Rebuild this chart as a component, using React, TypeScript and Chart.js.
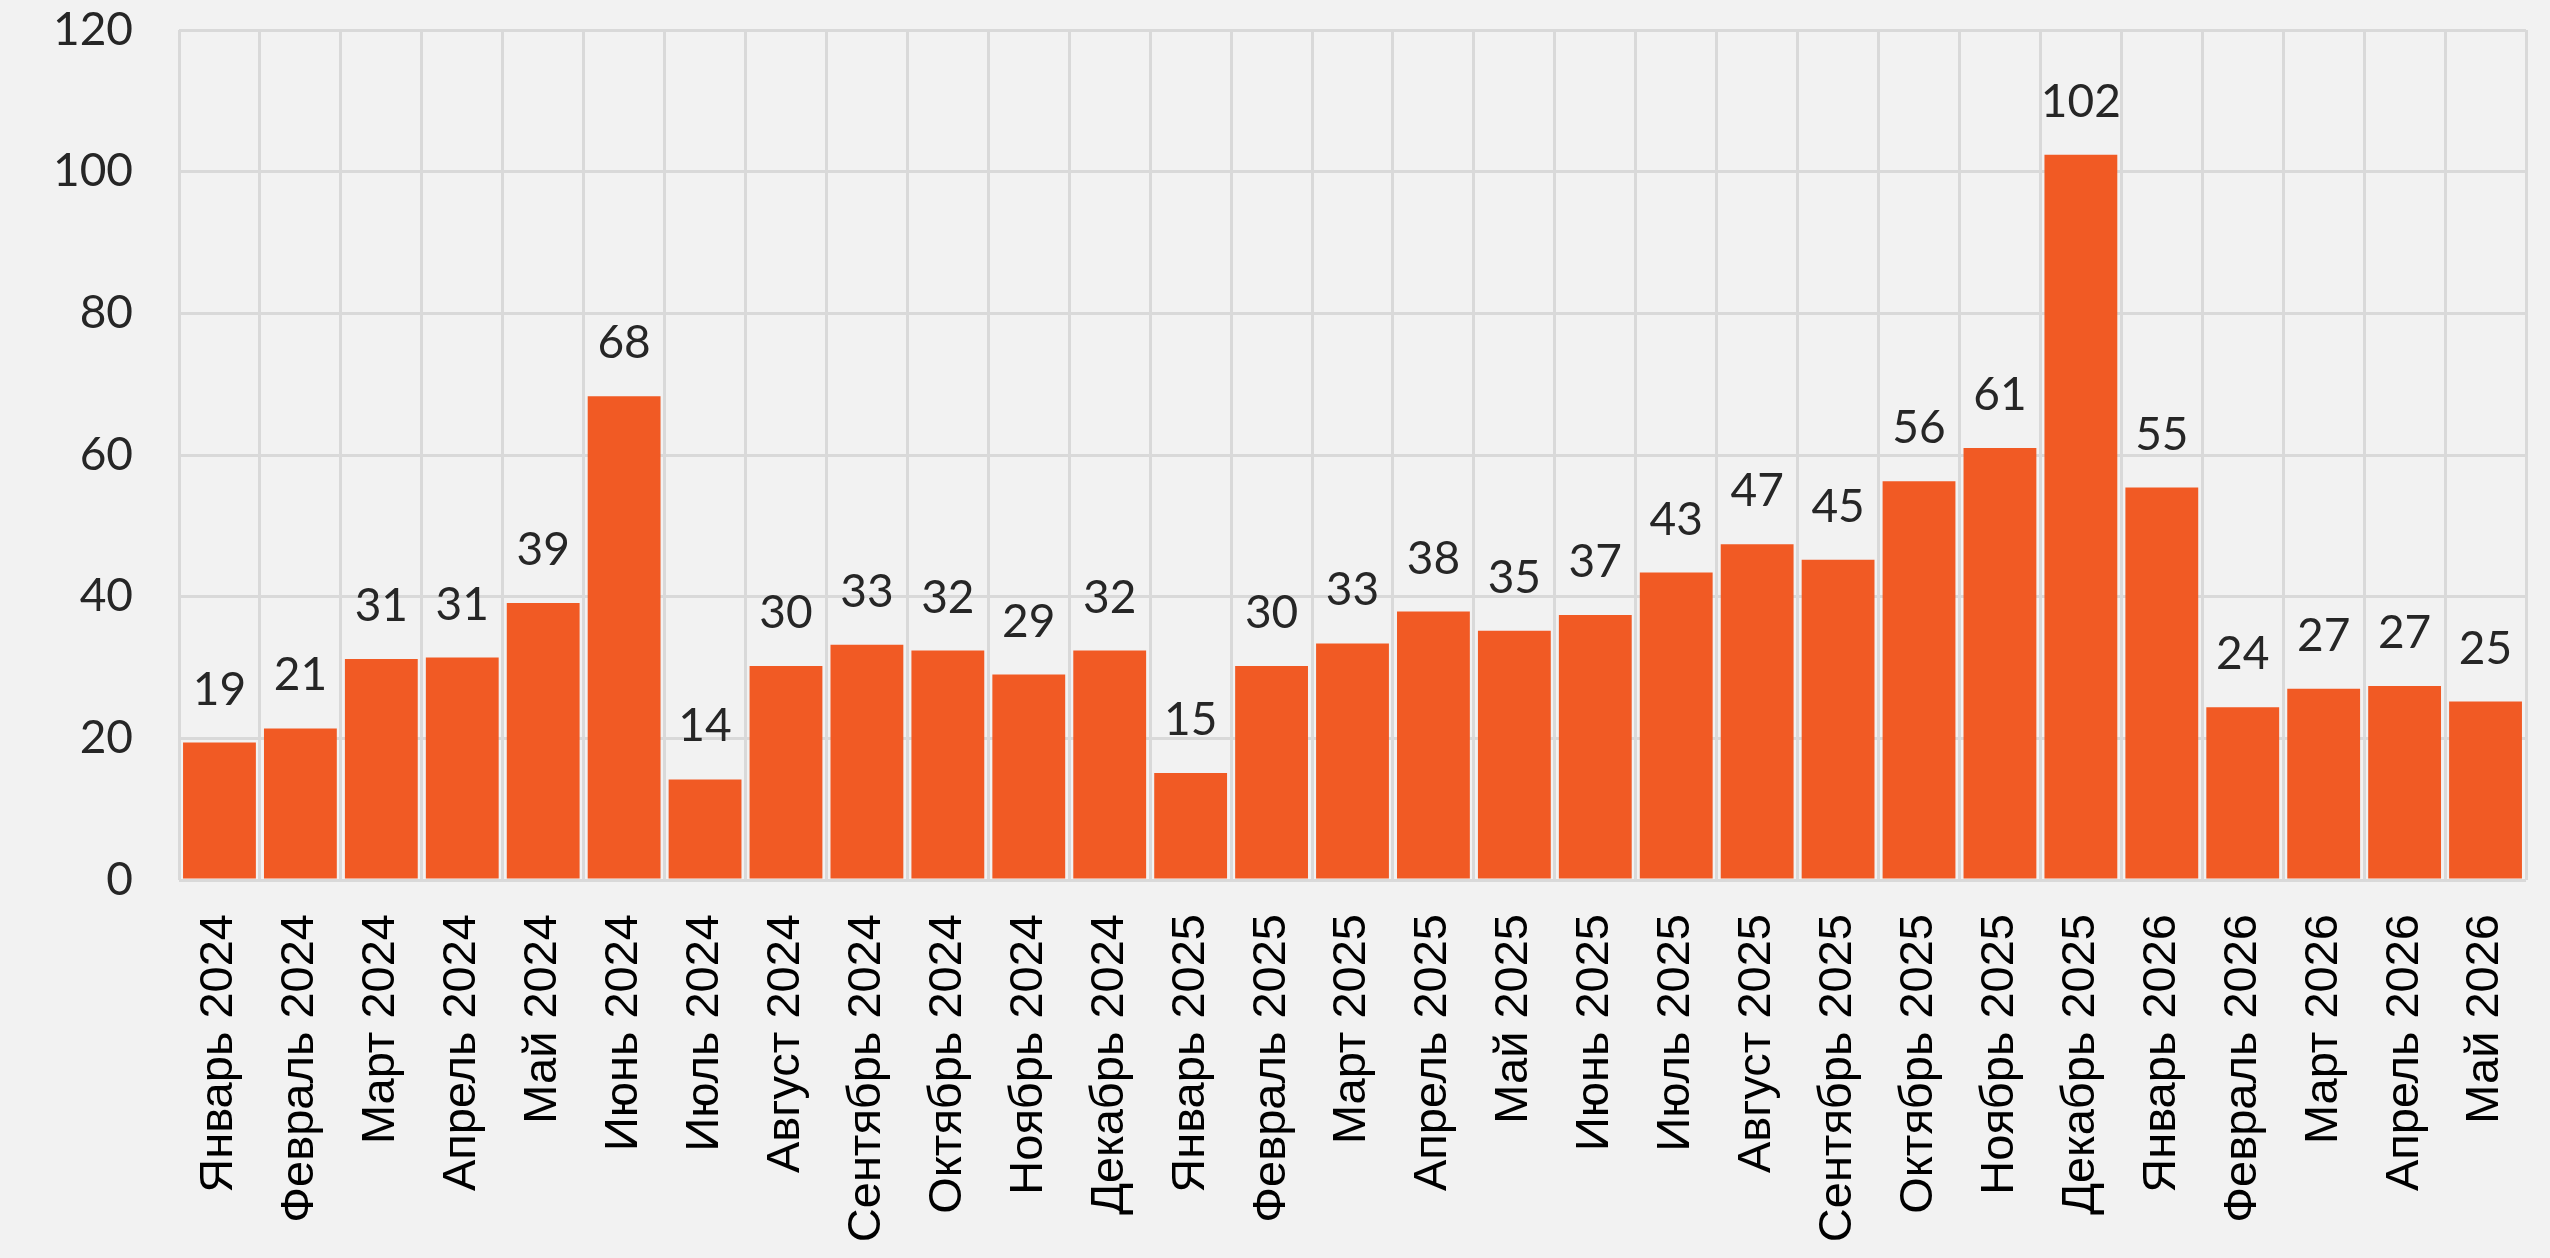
import React, { useEffect, useRef } from "react";
import { Chart, registerables } from "chart.js";

Chart.register(...registerables);

const categories: string[] = [
  "Январь 2024", "Февраль 2024", "Март 2024", "Апрель 2024", "Май 2024", "Июнь 2024",
  "Июль 2024", "Август 2024", "Сентябрь 2024", "Октябрь 2024", "Ноябрь 2024", "Декабрь 2024",
  "Январь 2025", "Февраль 2025", "Март 2025", "Апрель 2025", "Май 2025", "Июнь 2025",
  "Июль 2025", "Август 2025", "Сентябрь 2025", "Октябрь 2025", "Ноябрь 2025", "Декабрь 2025",
  "Январь 2026", "Февраль 2026", "Март 2026", "Апрель 2026", "Май 2026",
];

const values: number[] = [
  19.4, 21.4, 31.2, 31.4, 39.1, 68.3,
  14.2, 30.2, 33.2, 32.4, 29.0, 32.4,
  15.1, 30.2, 33.4, 37.9, 35.2, 37.4,
  43.4, 47.4, 45.2, 56.3, 61.0, 102.4,
  55.4, 24.4, 27.0, 27.4, 25.2,
];

const yTicks: number[] = [0, 20, 40, 60, 80, 100, 120];

const BAR_COLOR = "#F15A24";
const GRID_COLOR = "#D9D9D9";
const TEXT_COLOR = "#262626";
const NUM_FONT = "Lato";
const CAT_FONT = "'Liberation Sans', Arial, sans-serif";

const dataLabelPlugin = {
  id: "dataLabels",
  afterDatasetsDraw(chart: any) {
    const ctx = chart.ctx;
    const meta = chart.getDatasetMeta(0);
    const data = chart.data.datasets[0].data as number[];
    ctx.save();
    ctx.font = `46px ${NUM_FONT}`;
    ctx.fillStyle = TEXT_COLOR;
    ctx.textAlign = "center";
    ctx.textBaseline = "alphabetic";
    meta.data.forEach((bar: any, i: number) => {
      ctx.fillText(String(Math.round(data[i])), bar.x, bar.y - 38);
    });
    ctx.restore();
  },
};

export default function App() {
  const canvasRef = useRef<HTMLCanvasElement | null>(null);

  useEffect(() => {
    document.body.style.margin = "0";
    document.body.style.background = "#F2F2F2";
    const canvas = canvasRef.current;
    if (!canvas) return;
    const chart = new Chart(canvas, {
      type: "bar",
      data: {
        labels: categories,
        datasets: [
          {
            data: values,
            backgroundColor: BAR_COLOR,
            borderWidth: 0,
            barPercentage: 0.9,
            categoryPercentage: 1.0,
          },
        ],
      },
      options: {
        responsive: false,
        animation: false,
        devicePixelRatio: 1,
        layout: { padding: { left: 0, top: 30, right: 24, bottom: 0 } },
        plugins: {
          legend: { display: false },
          tooltip: { enabled: false },
          title: { display: false },
        },
        scales: {
          x: {
            offset: true,
            grid: {
              offset: true,
              color: GRID_COLOR,
              lineWidth: 3,
              drawTicks: false,
            },
            border: { display: false },
            ticks: {
              autoSkip: false,
              minRotation: 90,
              maxRotation: 90,
              padding: 34,
              color: "#000000",
              font: { family: CAT_FONT, size: 47 },
            },
            afterFit(scale: any) {
              scale.height = 378;
              scale.paddingLeft = 0;
              scale.paddingRight = 0;
            },
          },
          y: {
            min: 0,
            max: 120,
            afterBuildTicks(scale: any) {
              scale.ticks = yTicks.map((v) => ({ value: v }));
            },
            grid: {
              color: GRID_COLOR,
              lineWidth: 3,
              drawTicks: false,
            },
            border: { display: false },
            ticks: {
              padding: 46,
              color: TEXT_COLOR,
              font: { family: NUM_FONT, size: 46 },
            },
            afterFit(scale: any) {
              scale.width = 179;
              scale.paddingTop = 0;
              scale.paddingBottom = 0;
            },
          },
        },
      },
      plugins: [dataLabelPlugin],
    });
    return () => chart.destroy();
  }, []);

  return (
    <div
      style={{
        position: "fixed",
        left: 0,
        top: 0,
        width: 2550,
        height: 1258,
        background: "#F2F2F2",
      }}
    >
      <canvas
        ref={canvasRef}
        width={2550}
        height={1258}
        style={{ display: "block", width: 2550, height: 1258 }}
      />
    </div>
  );
}
